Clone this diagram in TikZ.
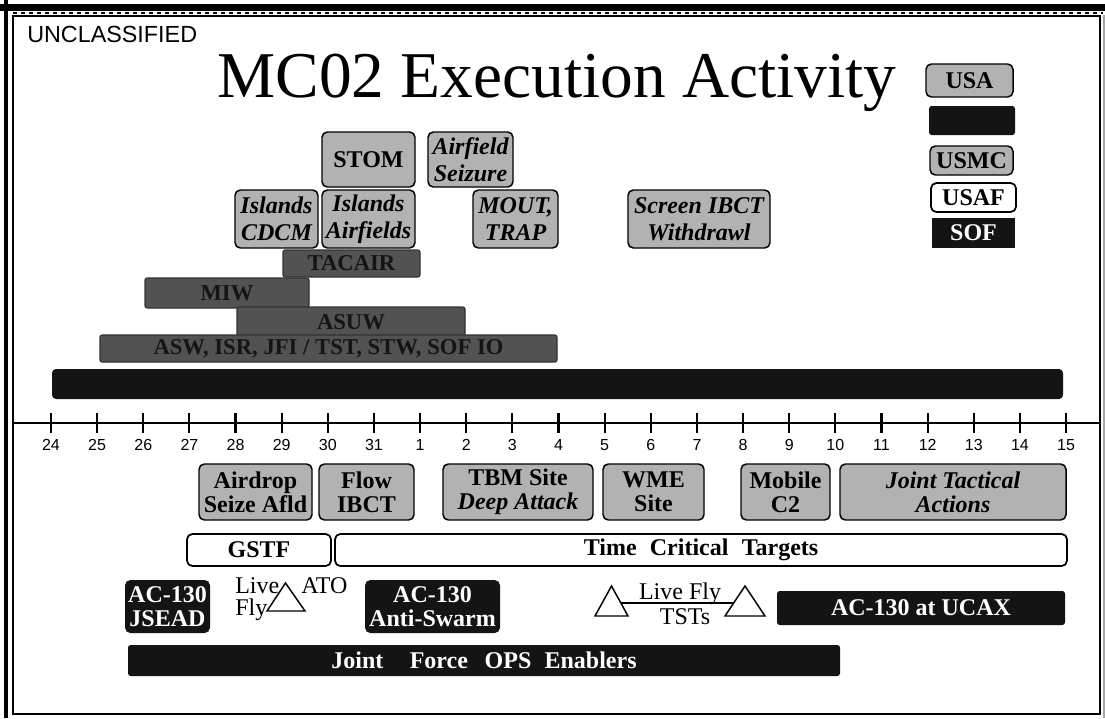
\documentclass[tikz,border=0pt]{standalone}
\usepackage{fontspec}
\setmainfont{Liberation Serif}
\setsansfont{Liberation Sans}
\begin{document}
\def\px{0.75pt}
\begin{tikzpicture}[x=0.75pt,y=-0.75pt,
  gbox/.style={draw=black, fill=black!30, rounded corners=4pt, line width=1.1pt, inner sep=0pt, align=center,
     font=\bfseries\fontsize{18pt}{20pt}\selectfont},
  gboxi/.style={gbox, font=\bfseries\itshape\fontsize{18pt}{20pt}\selectfont},
  lbox/.style={gbox, font=\bfseries\fontsize{18pt}{18pt}\selectfont},
  dbar/.style={draw=black!80, fill=black!68, text=black!92, rounded corners=1.5pt, line width=0.8pt, inner sep=0pt,
     font=\bfseries\fontsize{17pt}{18pt}\selectfont},
  bbox/.style={fill=black!92, text=white, rounded corners=4pt, inner sep=0pt, align=center,
     font=\bfseries\fontsize{18pt}{18.5pt}\selectfont},
  wbox/.style={draw=black, fill=white, line width=1.3pt, rounded corners=4pt, inner sep=0pt,
     font=\bfseries\fontsize{18pt}{18pt}\selectfont},
  plain/.style={inner sep=0pt, font=\fontsize{18pt}{18pt}\selectfont},
  ticklab/.style={inner sep=0pt, font=\sffamily\fontsize{12pt}{12pt}\selectfont},
  tri/.style={draw=black, line width=1.1pt, fill=white, line join=miter}
]
\useasboundingbox (0,0) rectangle (1105,718);
% frame
\fill[white] (0,0) rectangle (1105,718);
\draw[line width=5.5pt] (0,7.5) -- (1105,7.5);
\draw[line width=3pt] (6,0) -- (6,718);
\draw[line width=1.1pt, dash pattern=on 3pt off 3pt] (13,13) -- (1103,13);
\draw[line width=1.5pt] (13,15.5) rectangle (1100,714);
\draw[black!35, line width=0.8pt] (1104,15) -- (1104,718);

% headings
\node[inner sep=0pt, anchor=base west, font=\sffamily\fontsize{17.5pt}{18pt}\selectfont] (unc) at (27,42) {UNCLASSIFIED};
\node[inner sep=0pt, anchor=base, font=\fontsize{49pt}{50pt}\selectfont] (title) at (557,97) {MC02 Execution Activity};

% legend
\node[lbox, minimum width=87*\px, minimum height=33*\px] (lusa) at (969.5,80.5) {USA};
\node[bbox, rounded corners=2pt, minimum width=86*\px, minimum height=29*\px] (lblk) at (972,120.5) {};
\node[lbox, minimum width=83*\px, minimum height=29*\px] (lusmc) at (971.5,160.5) {USMC};
\node[wbox, minimum width=85*\px, minimum height=29*\px] (lusaf) at (973.5,197.5) {USAF};
\node[bbox, rounded corners=0pt, minimum width=83*\px, minimum height=30*\px] (lsof) at (973.5,233) {SOF};

% upper activities
\node[gbox, minimum width=93*\px, minimum height=55*\px] (stom) at (368.5,159.5) {STOM};
\node[gboxi, minimum width=85*\px, minimum height=55*\px] (afs) at (470.5,159.5) {Airfield\\Seizure};
\node[gboxi, minimum width=83*\px, minimum height=58*\px] (icdcm) at (276.5,219) {Islands\\CDCM};
\node[gboxi, minimum width=93*\px, minimum height=58*\px] (iaf) at (368.5,219) {Islands\\Airfields};
\node[gboxi, minimum width=85*\px, minimum height=58*\px] (mout) at (515.5,219) {MOUT,\\TRAP};
\node[gboxi, minimum width=142*\px, minimum height=58*\px] (scr) at (699,219) {Screen IBCT\\Withdrawl};
\node[dbar, minimum width=137*\px, minimum height=27*\px] (tacair) at (351.5,263.5) {TACAIR};
\node[dbar, minimum width=164*\px, minimum height=30*\px] (miw) at (227,293) {MIW};
\node[dbar, minimum width=228*\px, minimum height=30*\px] (asuw) at (351,322) {ASUW};
\node[dbar, minimum width=457*\px, minimum height=27*\px] (asw) at (328.5,348.5) {ASW, ISR, JFI / TST, STW, SOF IO};
\node[bbox, rounded corners=3pt, minimum width=1011*\px, minimum height=30*\px] (usnbar) at (557.5,384) {};

% time axis
\coordinate (axl) at (13,423);
\coordinate (axr) at (1100,423);
\draw[line width=1.5pt] (axl) -- (axr);
\foreach \lab [count=\i from 0] in {24,25,26,27,28,29,30,31,1,2,3,4,5,6,7,8,9,10,11,12,13,14,15} {
  \draw[line width=1.6pt] ({51+46.14*\i},413) -- ({51+46.14*\i},433);
  \node[ticklab] (tl\i) at ({51+46.14*\i},445) {\lab};
}

% lower activities
\node[lbox, minimum width=113*\px, minimum height=56*\px] (airdrop) at (255.5,492) {Airdrop\\Seize Afld};
\node[lbox, minimum width=95*\px, minimum height=56*\px] (flow) at (366.5,492) {Flow\\IBCT};
\node[lbox, minimum width=150*\px, minimum height=56*\px] (tbm) at (518,492) {TBM Site\\\itshape Deep Attack};
\node[lbox, minimum width=101*\px, minimum height=56*\px] (wme) at (653.5,492) {WME\\Site};
\node[lbox, minimum width=89*\px, minimum height=56*\px] (mob) at (785.5,492) {Mobile\\C2};
\node[lbox, font=\bfseries\itshape\fontsize{18pt}{18pt}\selectfont, minimum width=226*\px, minimum height=56*\px] (jta) at (953,492) {Joint Tactical\\Actions};

\node[wbox, minimum width=144*\px, minimum height=32*\px] (gstf) at (259,550) {GSTF};
\node[wbox, minimum width=732*\px, minimum height=32*\px] (tct) at (701,550) {Time\hspace{0.55em}Critical\hspace{0.55em}Targets};

\node[bbox, minimum width=85*\px, minimum height=53*\px] (jsead) at (167.5,606.5) {AC-130\\JSEAD};
\node[bbox, minimum width=135*\px, minimum height=53*\px] (swarm) at (432.5,606.5) {AC-130\\Anti-Swarm};
\node[bbox, rounded corners=2pt, minimum width=288*\px, minimum height=34*\px] (ucax) at (921,608) {AC-130 at UCAX};
\node[bbox, rounded corners=2pt, minimum width=712*\px, minimum height=31*\px] (jfoe) at (484,660.5) {Joint\hspace{1.1em}Force\hspace{0.7em}OPS\hspace{0.55em}Enablers};

% Live Fly / ATO
\node[plain, anchor=base west] (live1) at (235,593) {Live};
\node[plain, anchor=base west] (fly1) at (235,615) {Fly};
\node[plain, anchor=base west] (ato) at (301,593) {ATO};
\coordinate (a1) at (267,611); \coordinate (a2) at (305,611); \coordinate (a3) at (285.5,583);
\draw[tri, fill=none] (a1) -- (a2) -- (a3) -- cycle;

% Live Fly TSTs
\coordinate (b1) at (595,616); \coordinate (b2) at (628,616); \coordinate (b3) at (611.5,586);
\coordinate (c1) at (725,616); \coordinate (c2) at (765,616); \coordinate (c3) at (745,586);
\coordinate (bl) at (620.5,603); \coordinate (cr) at (734,603);
\draw[line width=2pt] (bl) -- (cr);
\draw[tri] (b1) -- (b2) -- (b3) -- cycle;
\draw[tri] (c1) -- (c2) -- (c3) -- cycle;
\node[plain, anchor=base] (livefly) at (680,599) {Live Fly};
\node[plain, anchor=base] (tsts) at (685,624) {TSTs};
\end{tikzpicture}
\end{document}
